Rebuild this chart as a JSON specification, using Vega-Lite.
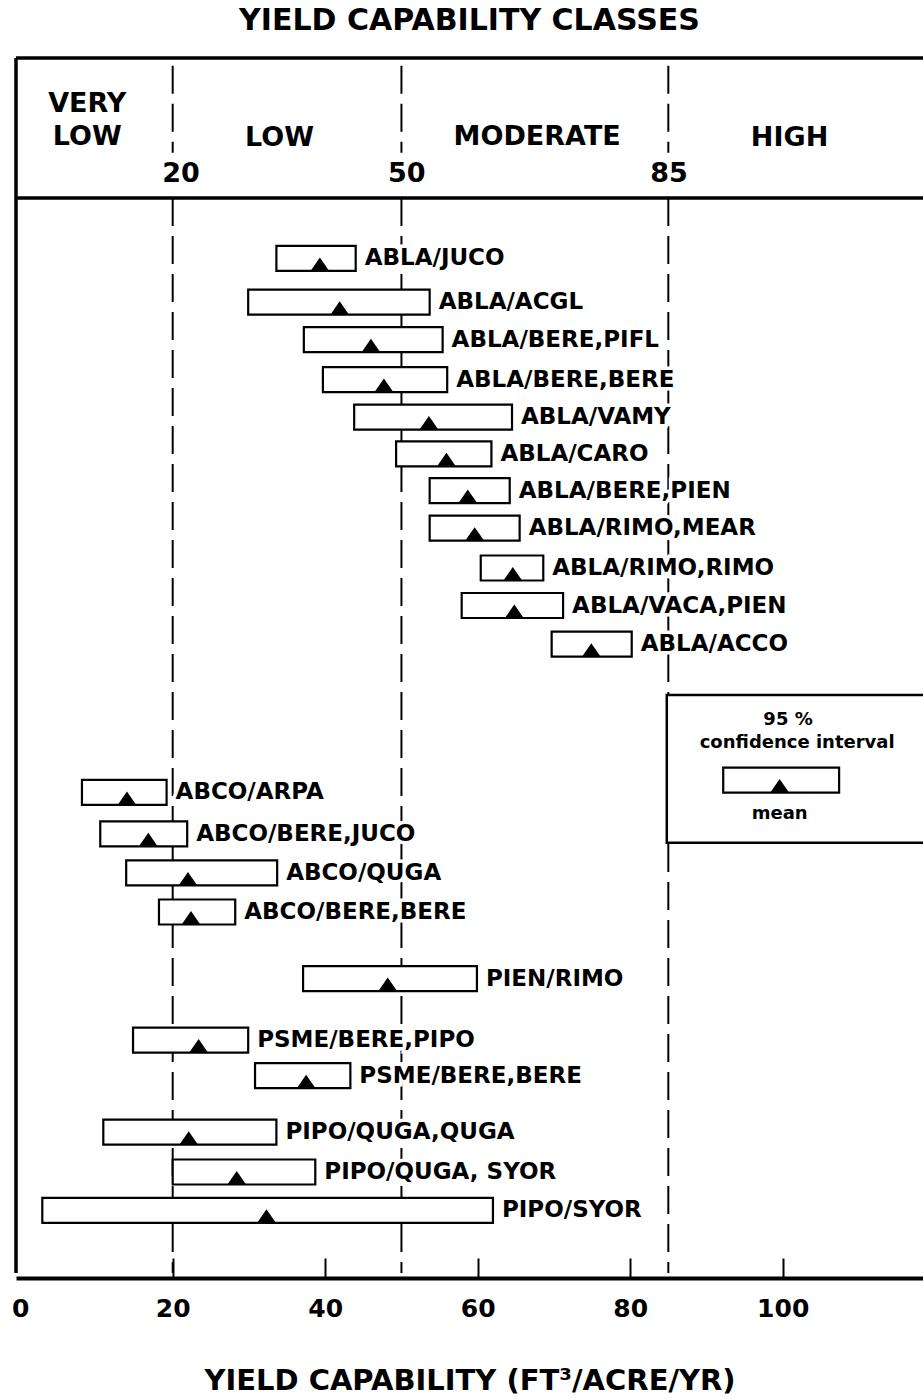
{
  "$schema": "https://vega.github.io/schema/vega-lite/v6.json",
  "width": 907,
  "height": 1225,
  "autosize": {"type": "none"},
  "padding": {"left": 16, "right": 0, "top": 53, "bottom": 121},
  "background": "white",
  "config": {"view": {"stroke": null}},
  "title": {"text": "YIELD CAPABILITY CLASSES", "font": "DejaVu Sans", "fontSize": 30, "fontWeight": "bold", "color": "black", "anchor": "middle", "frame": "group", "baseline": "top", "offset": 17},
  "datasets": {
    "types": [
      {"label": "ABLA/JUCO", "row": 5.18, "low": 33.6, "high": 44.0, "mean": 39.3},
      {"label": "ABLA/ACGL", "row": 6.31, "low": 29.9, "high": 53.7, "mean": 41.9},
      {"label": "ABLA/BERE,PIFL", "row": 7.28, "low": 37.2, "high": 55.4, "mean": 46.0},
      {"label": "ABLA/BERE,BERE", "row": 8.31, "low": 39.7, "high": 56.0, "mean": 47.7},
      {"label": "ABLA/VAMY", "row": 9.28, "low": 43.8, "high": 64.5, "mean": 53.6},
      {"label": "ABLA/CARO", "row": 10.23, "low": 49.3, "high": 61.8, "mean": 55.9},
      {"label": "ABLA/BERE,PIEN", "row": 11.18, "low": 53.7, "high": 64.2, "mean": 58.7},
      {"label": "ABLA/RIMO,MEAR", "row": 12.15, "low": 53.7, "high": 65.5, "mean": 59.6},
      {"label": "ABLA/RIMO,RIMO", "row": 13.18, "low": 60.4, "high": 68.6, "mean": 64.6},
      {"label": "ABLA/VACA,PIEN", "row": 14.15, "low": 57.9, "high": 71.2, "mean": 64.8},
      {"label": "ABLA/ACCO", "row": 15.15, "low": 69.7, "high": 80.2, "mean": 74.9},
      {"label": "ABCO/ARPA", "row": 18.98, "low": 8.1, "high": 19.2, "mean": 14.0},
      {"label": "ABCO/BERE,JUCO", "row": 20.05, "low": 10.5, "high": 21.9, "mean": 16.8},
      {"label": "ABCO/QUGA", "row": 21.06, "low": 13.9, "high": 33.7, "mean": 22.0},
      {"label": "ABCO/BERE,BERE", "row": 22.07, "low": 18.2, "high": 28.2, "mean": 22.4},
      {"label": "PIEN/RIMO", "row": 23.79, "low": 37.1, "high": 59.9, "mean": 48.2},
      {"label": "PSME/BERE,PIPO", "row": 25.38, "low": 14.8, "high": 29.9, "mean": 23.4},
      {"label": "PSME/BERE,BERE", "row": 26.3, "low": 30.8, "high": 43.3, "mean": 37.5},
      {"label": "PIPO/QUGA,QUGA", "row": 27.76, "low": 10.9, "high": 33.6, "mean": 22.1},
      {"label": "PIPO/QUGA, SYOR", "row": 28.79, "low": 20.0, "high": 38.7, "mean": 28.4},
      {"label": "PIPO/SYOR", "row": 29.78, "low": 2.9, "high": 62.0, "mean": 32.3},
      {"label": "", "row": 18.66, "low": 92.2, "high": 107.4, "mean": 99.6}
    ],
    "bounds": [
      {"x": 20, "y": 0.2, "y2": 2.45},
      {"x": 50, "y": 0.2, "y2": 2.45},
      {"x": 85, "y": 0.2, "y2": 2.45},
      {"x": 20, "y": 3.62, "y2": 31.4},
      {"x": 50, "y": 3.62, "y2": 31.4},
      {"x": 85, "y": 3.62, "y2": 31.4}
    ],
    "frame": [
      {"x": -0.55, "x2": 118.4, "y": 0, "y2": 0},
      {"x": -0.55, "x2": 118.4, "y": 3.62, "y2": 3.62},
      {"x": -0.55, "x2": -0.55, "y": 0, "y2": 31.4}
    ],
    "legendBox": [
      {"x": 84.8, "x2": 122, "y": 16.46, "y2": 20.28}
    ],
    "header": [
      {"text": "VERY", "x": 8.8, "y": 1.2},
      {"text": "LOW", "x": 8.8, "y": 2.05},
      {"text": "LOW", "x": 34.0, "y": 2.08},
      {"text": "MODERATE", "x": 67.8, "y": 2.05},
      {"text": "HIGH", "x": 100.9, "y": 2.08},
      {"text": "20", "x": 21.1, "y": 3.0},
      {"text": "50", "x": 50.7, "y": 3.0},
      {"text": "85", "x": 85.1, "y": 3.0}
    ],
    "legendText": [
      {"text": "95 %", "x": 100.7, "y": 17.1},
      {"text": "confidence interval", "x": 101.9, "y": 17.69},
      {"text": "mean", "x": 99.6, "y": 19.53}
    ]
  },
  "encoding": {
    "x": {"field": "x", "type": "quantitative", "scale": {"domain": [-0.55, 118.4], "nice": false, "zero": false}},
    "y": {"field": "y", "type": "quantitative", "scale": {"domain": [0, 31.4], "reverse": true, "nice": false, "zero": false}, "axis": null}
  },
  "layer": [
    {
      "data": {"name": "bounds"},
      "mark": {"type": "rule", "stroke": "black", "strokeWidth": 2, "strokeDash": [28, 10]},
      "encoding": {
        "x": {"field": "x", "type": "quantitative",
          "axis": {
            "values": [0, 20, 40, 60, 80, 100],
            "grid": false,
            "domainColor": "black", "domainWidth": 4,
            "tickColor": "black", "tickWidth": 2, "tickSize": -20,
            "tickOpacity": {"condition": {"test": "datum.value === 0", "value": 0}, "value": 1},
            "labelFont": "DejaVu Sans", "labelFontWeight": "bold", "labelFontSize": 25, "labelColor": "black",
            "labelPadding": 38, "labelBaseline": "top",
            "title": "YIELD CAPABILITY (FT³/ACRE/YR)",
            "titleFont": "DejaVu Sans", "titleFontWeight": "bold", "titleFontSize": 29, "titleColor": "black",
            "titlePadding": 45
          }
        },
        "y2": {"field": "y2"}
      }
    },
    {
      "data": {"name": "frame"},
      "mark": {"type": "rule", "stroke": "black", "strokeWidth": 3.5},
      "encoding": {"x2": {"field": "x2"}, "y2": {"field": "y2"}}
    },
    {
      "data": {"name": "legendBox"},
      "mark": {"type": "rect", "fill": "white", "stroke": "black", "strokeWidth": 2.5, "clip": true},
      "encoding": {"x2": {"field": "x2"}, "y2": {"field": "y2"}}
    },
    {
      "data": {"name": "types"},
      "mark": {"type": "bar", "height": 25, "fill": "white", "stroke": "black", "strokeWidth": 2.2, "orient": "horizontal"},
      "encoding": {
        "x": {"field": "low", "type": "quantitative"},
        "x2": {"field": "high"},
        "y": {"field": "row", "type": "quantitative"}
      }
    },
    {
      "data": {"name": "types"},
      "mark": {"type": "point", "shape": "M-1,0.72L0,-0.72L1,0.72Z", "filled": true, "fill": "black", "stroke": null, "size": 324, "opacity": 1, "yOffset": 5.5},
      "encoding": {
        "x": {"field": "mean", "type": "quantitative"},
        "y": {"field": "row", "type": "quantitative"}
      }
    },
    {
      "data": {"name": "types"},
      "mark": {"type": "text", "align": "left", "baseline": "middle", "dx": 9, "font": "DejaVu Sans", "fontWeight": "bold", "fontSize": 23, "fill": "white", "stroke": "white", "strokeWidth": 7},
      "encoding": {
        "x": {"field": "high", "type": "quantitative"},
        "y": {"field": "row", "type": "quantitative"},
        "text": {"field": "label"}
      }
    },
    {
      "data": {"name": "types"},
      "mark": {"type": "text", "align": "left", "baseline": "middle", "dx": 9, "font": "DejaVu Sans", "fontWeight": "bold", "fontSize": 23, "fill": "black"},
      "encoding": {
        "x": {"field": "high", "type": "quantitative"},
        "y": {"field": "row", "type": "quantitative"},
        "text": {"field": "label"}
      }
    },
    {
      "data": {"name": "header"},
      "mark": {"type": "text", "align": "center", "baseline": "middle", "font": "DejaVu Sans", "fontWeight": "bold", "fontSize": 27, "fill": "black"},
      "encoding": {"text": {"field": "text"}}
    },
    {
      "data": {"name": "legendText"},
      "mark": {"type": "text", "align": "center", "baseline": "middle", "font": "DejaVu Sans", "fontWeight": "bold", "fontSize": 18, "fill": "black"},
      "encoding": {"text": {"field": "text"}}
    }
  ]
}
